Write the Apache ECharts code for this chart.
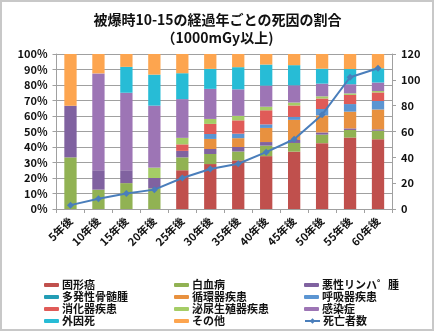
<!DOCTYPE html>
<html>
<head>
<meta charset="utf-8">
<style>
  html, body { margin: 0; padding: 0; background: #ffffff; }
  #chart { width: 435px; height: 332px; }
</style>
<script src="https://cdn.jsdelivr.net/npm/echarts@6/dist/echarts.min.js"></script>
</head>
<body>
<div id="chart"></div>
<script>
// Years elapsed since exposure
const years = ['5年後', '10年後', '15年後', '20年後', '25年後', '30年後',
               '35年後', '40年後', '45年後', '50年後', '55年後', '60年後'];

// Share of each cause of death (%)
const solidCancer   = [0, 0, 0, 0, 25.0, 29.0, 31.4, 34.1, 37.0, 42.5, 46.1, 45.0];
const leukemia      = [33.3, 12.5, 16.7, 13.3, 8.3, 6.5, 5.7, 6.8, 5.6, 5.5, 4.9, 5.5];
const lymphoma      = [33.3, 12.5, 8.3, 6.7, 4.2, 3.2, 2.9, 2.3, 1.9, 1.4, 1.0, 0.9];
const myeloma       = [0, 0, 0, 0, 0, 0, 0, 0, 0, 0, 0, 0];
const circulatory   = [0, 0, 0, 0, 0, 6.5, 5.7, 9.1, 13.0, 11.0, 10.8, 12.8];
const respiratory   = [0, 0, 0, 0, 0, 3.2, 2.9, 2.3, 1.9, 4.1, 4.9, 5.5];
const digestive     = [0, 0, 0, 0, 4.2, 6.5, 8.6, 9.1, 7.4, 6.8, 5.9, 5.5];
const urogenital    = [0, 0, 0, 6.7, 4.2, 3.2, 2.9, 2.3, 1.9, 1.4, 1.0, 0.9];
const infection     = [0, 62.5, 50.0, 40.0, 25.0, 19.4, 17.1, 13.6, 11.1, 8.2, 5.9, 5.5];
const externalCause = [0, 0, 16.7, 20.0, 16.7, 12.9, 14.3, 13.6, 13.0, 9.6, 9.8, 9.2];
const otherCause    = [33.4, 12.5, 8.3, 13.3, 12.5, 9.7, 8.6, 6.8, 7.4, 9.6, 9.8, 9.2];

// Number of deaths (right axis)
const deaths = [3, 8, 12, 15, 24, 31, 35, 44, 54, 73, 102, 109];

// Axis tick labels
const pctTicks = ['0%', '10%', '20%', '30%', '40%', '50%', '60%', '70%', '80%', '90%', '100%'];

const causes = [
  { name: '固形癌',         data: solidCancer,   color: '#C0504D' },
  { name: '白血病',         data: leukemia,      color: '#91B253' },
  { name: '悪性リンハ゜腫', data: lymphoma,      color: '#8062A0' },
  { name: '多発性骨髄腫',   data: myeloma,       color: '#239DB5' },
  { name: '循環器疾患',     data: circulatory,   color: '#E8913F' },
  { name: '呼吸器疾患',     data: respiratory,   color: '#5B95D2' },
  { name: '消化器疾患',     data: digestive,     color: '#E05B58' },
  { name: '泌尿生殖器疾患', data: urogenital,    color: '#A5CD66' },
  { name: '感染症',         data: infection,     color: '#9D75B5' },
  { name: '外因死',         data: externalCause, color: '#27BCD6' },
  { name: 'その他',         data: otherCause,    color: '#FDA54F' }
];
const lineName = '死亡者数';
const lineColor = '#4A7EBB';

const FONT = '"Noto Sans CJK JP", "Noto Sans", sans-serif';
const gridColor = '#A0A0A0';

const series = causes.map(c => ({
  name: c.name,
  type: 'bar',
  stack: 'share',
  yAxisIndex: 0,
  barWidth: '44%',
  data: c.data,
  itemStyle: { color: c.color },
  z: 2
}));
series.push({
  name: lineName,
  type: 'line',
  yAxisIndex: 1,
  data: deaths,
  symbol: 'diamond',
  symbolSize: 7,
  lineStyle: { color: lineColor, width: 2 },
  itemStyle: { color: lineColor },
  z: 5
});

// Legend laid out in three columns, read row by row
const legendText = { fontFamily: FONT, fontSize: 11, fontWeight: 'bold', color: '#111', lineHeight: 12, padding: [0, 0, 0, -2] };
const barNames = causes.map(c => c.name);
const columns = [0, 1, 2].map(col => barNames.filter((_, i) => i % 3 === col));
const legendLeft = [44, 174, 304];
const legends = columns.map((col, k) => ({
  type: 'plain',
  orient: 'vertical',
  left: legendLeft[k],
  top: 279,
  height: 52,
  padding: 0,
  itemWidth: 15,
  itemHeight: 4,
  itemGap: 0,
  icon: 'roundRect',
  data: col,
  textStyle: legendText
}));
// The line entry keeps its diamond marker
legends.push({
  type: 'plain',
  orient: 'vertical',
  left: 304,
  top: 315,
  padding: 0,
  itemWidth: 15,
  itemHeight: 7,
  itemGap: 0,
  data: [lineName],
  textStyle: legendText
});

const option = {
  animation: false,
  backgroundColor: '#ffffff',
  title: {
    text: '被爆時10-15の経過年ごとの死因の割合\n（1000mGy以上)',
    left: 'center',
    top: 6,
    textStyle: { fontFamily: FONT, fontSize: 14, fontWeight: 'bold', color: '#111', lineHeight: 18 }
  },
  legend: legends,
  grid: { left: 56.5, right: 43, top: 54, bottom: 123 },
  xAxis: {
    type: 'category',
    data: years,
    axisLine: { lineStyle: { color: gridColor } },
    axisTick: { show: true, length: 4, lineStyle: { color: gridColor } },
    axisLabel: {
      rotate: 45, margin: 10, interval: 0,
      fontFamily: FONT, fontSize: 11, fontWeight: 'bold', color: '#111'
    }
  },
  yAxis: [
    {
      type: 'value', min: 0, max: 100, interval: 10,
      axisLine: { show: true, lineStyle: { color: gridColor } },
      axisTick: { show: true, length: 4, lineStyle: { color: gridColor } },
      splitLine: { lineStyle: { color: gridColor } },
      axisLabel: {
        margin: 9,
        formatter: v => pctTicks[Math.round(v / 10)],
        fontFamily: FONT, fontSize: 11, fontWeight: 'bold', color: '#111'
      }
    },
    {
      type: 'value', min: 0, max: 120, interval: 20,
      axisLine: { show: true, lineStyle: { color: gridColor } },
      axisTick: { show: true, length: 4, lineStyle: { color: gridColor } },
      splitLine: { show: false },
      axisLabel: {
        margin: 9,
        fontFamily: FONT, fontSize: 11, fontWeight: 'bold', color: '#111'
      }
    }
  ],
  graphic: [{
    type: 'rect',
    shape: { x: 1, y: 1, width: 432, height: 329 },
    style: { fill: null, stroke: '#C8C8C8', lineWidth: 2 },
    silent: true,
    z: 100
  }],
  series: series
};

const chart = echarts.init(document.getElementById('chart'), null, { renderer: 'canvas' });
chart.setOption(option);
</script>
</body>
</html>
